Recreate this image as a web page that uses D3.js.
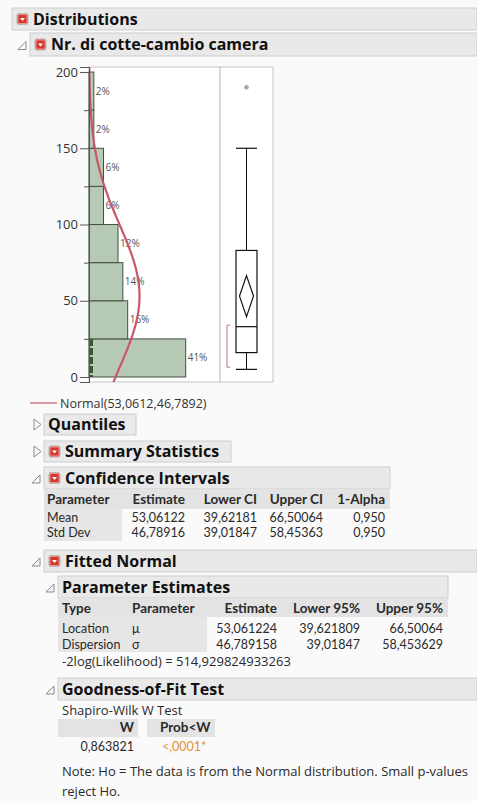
<!DOCTYPE html>
<html>
<head>
<meta charset="utf-8">
<script src="https://cdn.jsdelivr.net/npm/d3@7"></script>
<style>
  body { margin: 0; background: #fafafa; }
  text { font-family: "Open Sans", "Noto Sans", sans-serif; }
</style>
</head>
<body>
<svg id="chart" width="477" height="801"></svg>
<script>
// histogram data (bin width 25)
var binStarts = [0, 25, 50, 75, 100, 125, 150, 175];
var binCounts = [20, 8, 7, 6, 3, 3, 1, 1];
var binLabels = ["41%", "16%", "14%", "12%", "6%", "6%", "2%", "2%"];
var nObs = 49;
var axisTicks = [0, 50, 100, 150, 200];
var minorTicks = [25, 75, 125, 175];

// fitted normal
var normMean = 53.0612, normSd = 46.7892;
var legendText = "Normal(53,0612,46,7892)";

// box plot summary
var boxStats = {min: 5, q1: 16, median: 33, q3: 83, whiskerHi: 150};
var outliers = [190];
var meanCI = [39.62, 53.06, 66.50];
var shortestHalf = [6.5, 34];

// tables
var ciCols = ["Parameter", "Estimate", "Lower CI", "Upper CI", "1-Alpha"];
var ciRows = [["Mean", "53,06122", "39,62181", "66,50064", "0,950"],
              ["Std Dev", "46,78916", "39,01847", "58,45363", "0,950"]];
var peCols = ["Type", "Parameter", "Estimate", "Lower 95%", "Upper 95%"];
var peRows = [["Location", "\u03bc", "53,061224", "39,621809", "66,50064"],
              ["Dispersion", "\u03c3", "46,789158", "39,01847", "58,453629"]];
var gofCols = ["W", "Prob<W"];
var gofRow = ["0,863821", "<,0001*"];

var svg = d3.select("#chart");

// ---------- helpers ----------
function redIcon(x, y) {
  svg.append("rect").attr("x", x).attr("y", y).attr("width", 11).attr("height", 11)
    .attr("rx", 2).attr("fill", "#d8362c").attr("stroke", "#b8b8b8");
  svg.append("rect").attr("x", x + 1).attr("y", y + 1).attr("width", 9).attr("height", 9)
    .attr("rx", 1).attr("fill", "none").attr("stroke", "#f3b0aa").attr("stroke-width", 0.8);
  svg.append("path").attr("d", "M" + (x + 3) + "," + (y + 4.5) + "L" + (x + 8) + "," + (y + 4.5) + "L" + (x + 5.5) + "," + (y + 7.5) + "Z")
    .attr("fill", "#fff");
}
function openTri(x, y) {
  svg.append("path").attr("d", "M" + (x + 8) + "," + y + "L" + (x + 8) + "," + (y + 8) + "L" + x + "," + (y + 8) + "Z")
    .attr("fill", "none").attr("stroke", "#8a8a8a").attr("stroke-width", 1);
}
function closedTri(x, y) {
  svg.append("path").attr("d", "M" + x + "," + y + "L" + (x + 7) + "," + (y + 5.5) + "L" + x + "," + (y + 11) + "Z")
    .attr("fill", "none").attr("stroke", "#8a8a8a").attr("stroke-width", 1);
}
function header(x0, y0, x1, y1, label, opt) {
  svg.append("rect").attr("x", x0).attr("y", y0).attr("width", x1 - x0).attr("height", y1 - y0)
    .attr("fill", "#e9e9e9").attr("stroke", "#cdcdcd");
  var tx = x0 + 4;
  if (opt.icon) { redIcon(x0 + 5, (y0 + y1) / 2 - 5.5); tx = x0 + 21; }
  if (opt.tri == "open") openTri(x0 - 12, (y0 + y1) / 2 - 3);
  if (opt.tri == "closed") closedTri(x0 - 10, (y0 + y1) / 2 - 5.5);
  svg.append("text").attr("x", tx).attr("y", (y0 + y1) / 2 + 5.5)
    .attr("font-size", 16).attr("font-weight", "bold").attr("fill", "#111")
    .text(label);
}
// table cells: Lato keeps the tight 15px rows from colliding
function cell(x, y, txt, anchor, opt) {
  opt = opt || {};
  svg.append("text").attr("x", x).attr("y", y).attr("text-anchor", anchor)
    .style("font-family", "Lato, sans-serif")
    .attr("font-size", opt.bold ? 13.5 : 12.5).attr("font-weight", opt.bold ? "bold" : "normal")
    .attr("fill", opt.color || "#2a2a2a").text(txt);
}
function note(x, y, txt) {
  svg.append("text").attr("x", x).attr("y", y).attr("font-size", 13).attr("fill", "#2a2a2a").text(txt);
}

// ---------- headers ----------
header(12, 8, 477, 30, "Distributions", {icon: true});
header(30, 33, 477, 56, "Nr. di cotte-cambio camera", {icon: true, tri: "open"});

// ---------- histogram ----------
var y = d3.scaleLinear().domain([-3.28, 203.3]).range([382, 67]);
var x = d3.scaleLinear().domain([0, 55.3]).range([89, 220]);

svg.append("rect").attr("x", 89).attr("y", 67).attr("width", 131).attr("height", 315)
  .attr("fill", "#fff").attr("stroke", "#c4c4c4");

svg.append("defs").append("clipPath").attr("id", "hclip")
  .append("rect").attr("x", 89).attr("y", 67).attr("width", 131).attr("height", 315);

var bins = binStarts.map(function(s, i) {
  return {lo: s, hi: s + 25, pct: 100 * binCounts[i] / nObs, label: binLabels[i]};
});

svg.selectAll(".bar").data(bins).enter().append("rect")
  .attr("class", "bar")
  .attr("x", x(0))
  .attr("y", function(d) { return y(d.hi); })
  .attr("width", function(d) { return x(d.pct) - x(0); })
  .attr("height", function(d) { return y(d.lo) - y(d.hi); })
  .attr("fill", "#b6c9b4").attr("stroke", "#42513f").attr("stroke-width", 1);

// dark rows marker on first bin
svg.append("line").attr("x1", x(0) + 2.5).attr("x2", x(0) + 2.5)
  .attr("y1", y(25)).attr("y2", y(0))
  .attr("stroke", "#2f5a2e").attr("stroke-width", 3).attr("stroke-dasharray", "7,2");

svg.selectAll(".pct").data(bins).enter().append("text")
  .attr("class", "pct")
  .attr("x", function(d) { return x(d.pct) + 2; })
  .attr("y", function(d) { return y((d.lo + d.hi) / 2) + 3.5; })
  .attr("font-size", 10).attr("fill", "#555")
  .text(function(d) { return d.label; });

// normal curve (fitted density in percent per bin)
var curvePts = d3.range(-3.3, 203.5, 0.5).map(function(v) {
  var z = (v - normMean) / normSd;
  return [v, 100 * 25 * Math.exp(-0.5 * z * z) / (normSd * Math.sqrt(2 * Math.PI))];
});
svg.append("path").datum(curvePts)
  .attr("clip-path", "url(#hclip)")
  .attr("fill", "none").attr("stroke", "#c9566b").attr("stroke-width", 2.2)
  .attr("d", d3.line().x(function(d) { return x(d[1]); }).y(function(d) { return y(d[0]); }));

// y axis
var yAxis = svg.append("g").attr("transform", "translate(89,0)")
  .call(d3.axisLeft(y).tickValues(axisTicks).tickSize(9).tickPadding(2).tickFormat(d3.format("d")));
yAxis.select(".domain").attr("stroke", "#555");
yAxis.selectAll(".tick line").attr("stroke", "#555");
yAxis.selectAll(".tick text").attr("font-size", 13).attr("fill", "#333")
  .attr("font-family", "'Open Sans', sans-serif");
svg.append("g").attr("transform", "translate(89,0)")
  .call(d3.axisLeft(y).tickValues(minorTicks).tickSize(5).tickFormat(""))
  .call(function(g) { g.select(".domain").remove(); g.selectAll("line").attr("stroke", "#555"); });

// ---------- box plot ----------
svg.append("rect").attr("x", 220).attr("y", 67).attr("width", 53).attr("height", 315)
  .attr("fill", "#fff").attr("stroke", "#c4c4c4");
var bx0 = 236, bx1 = 257, bc = 246.5;
svg.append("line").attr("x1", bc).attr("x2", bc).attr("y1", y(boxStats.whiskerHi)).attr("y2", y(boxStats.q3))
  .attr("stroke", "#111");
svg.append("line").attr("x1", bc).attr("x2", bc).attr("y1", y(boxStats.q1)).attr("y2", y(boxStats.min))
  .attr("stroke", "#111");
[boxStats.whiskerHi, boxStats.min].forEach(function(v) {
  svg.append("line").attr("x1", bx0).attr("x2", bx1).attr("y1", y(v)).attr("y2", y(v))
    .attr("stroke", "#111").attr("stroke-width", 1.2);
});
svg.append("rect").attr("x", bx0).attr("y", y(boxStats.q3)).attr("width", bx1 - bx0)
  .attr("height", y(boxStats.q1) - y(boxStats.q3))
  .attr("fill", "none").attr("stroke", "#111").attr("stroke-width", 1.2);
svg.append("line").attr("x1", bx0).attr("x2", bx1).attr("y1", y(boxStats.median)).attr("y2", y(boxStats.median))
  .attr("stroke", "#111").attr("stroke-width", 1.2);
svg.append("path")
  .attr("d", "M" + bc + "," + y(meanCI[2]) + "L" + (bc + 7) + "," + y(meanCI[1]) +
             "L" + bc + "," + y(meanCI[0]) + "L" + (bc - 7) + "," + y(meanCI[1]) + "Z")
  .attr("fill", "none").attr("stroke", "#111").attr("stroke-width", 1.2);
svg.append("path")
  .attr("d", "M230," + y(shortestHalf[1]) + "L227," + y(shortestHalf[1]) + "L227," + y(shortestHalf[0]) + "L230," + y(shortestHalf[0]))
  .attr("fill", "none").attr("stroke", "#c07080").attr("stroke-width", 1);
svg.selectAll(".outlier").data(outliers).enter().append("circle")
  .attr("cx", bc).attr("cy", function(d) { return y(d); }).attr("r", 2.3).attr("fill", "#a8a8a8");

// legend
svg.append("line").attr("x1", 30).attr("x2", 57).attr("y1", 403).attr("y2", 403)
  .attr("stroke", "#c9566b").attr("stroke-width", 1.2);
svg.append("text").attr("x", 60).attr("y", 408).attr("font-size", 12.5).attr("fill", "#333")
  .text(legendText);

// ---------- report sections ----------
header(44, 414, 136, 435, "Quantiles", {tri: "closed"});
header(44, 441, 231, 462, "Summary Statistics", {icon: true, tri: "closed"});
header(44, 467, 390, 489, "Confidence Intervals", {icon: true, tri: "open"});

// confidence intervals table
svg.append("rect").attr("x", 44).attr("y", 490).attr("width", 346).attr("height", 19).attr("fill", "#e3e3e3");
svg.append("rect").attr("x", 44).attr("y", 509).attr("width", 78).attr("height", 32).attr("fill", "#e6e6e6");
var ciX = [47, 185, 257, 323, 385];
ciCols.forEach(function(c, j) { cell(ciX[j], 504, c, j == 0 ? "start" : "end", {bold: true}); });
ciRows.forEach(function(r, i) {
  r.forEach(function(v, j) { cell(ciX[j], 522 + i * 15, v, j == 0 ? "start" : "end"); });
});

header(44, 550, 477, 572, "Fitted Normal", {icon: true, tri: "open"});
header(58, 576, 448, 598, "Parameter Estimates", {tri: "open"});

// parameter estimates table
svg.append("rect").attr("x", 58).attr("y", 598).attr("width", 390).attr("height", 19).attr("fill", "#e3e3e3");
svg.append("rect").attr("x", 58).attr("y", 617).attr("width", 149).attr("height", 35).attr("fill", "#e6e6e6");
var peX = [62, 132, 277, 360, 443];
peCols.forEach(function(c, j) { cell(peX[j], 613, c, j < 2 ? "start" : "end", {bold: true}); });
peRows.forEach(function(r, i) {
  r.forEach(function(v, j) { cell(peX[j], 633 + i * 16, v, j < 2 ? "start" : "end"); });
});
note(62, 666, "-2log(Likelihood) = 514,929824933263");

header(58, 678, 477, 700, "Goodness-of-Fit Test", {tri: "open"});
note(62, 715, "Shapiro-Wilk W Test");
svg.append("rect").attr("x", 58).attr("y", 719).attr("width", 80).attr("height", 18).attr("fill", "#e3e3e3");
svg.append("rect").attr("x", 147).attr("y", 719).attr("width", 68).attr("height", 18).attr("fill", "#e3e3e3");
cell(134, 732, gofCols[0], "end", {bold: true});
cell(160, 732, gofCols[1], "start", {bold: true});
cell(134, 751, gofRow[0], "end");
cell(162, 751, gofRow[1], "start", {color: "#e39232"});
note(62, 776, "Note: Ho = The data is from the Normal distribution. Small p-values");
note(62, 796, "reject Ho.");
</script>
</body>
</html>
